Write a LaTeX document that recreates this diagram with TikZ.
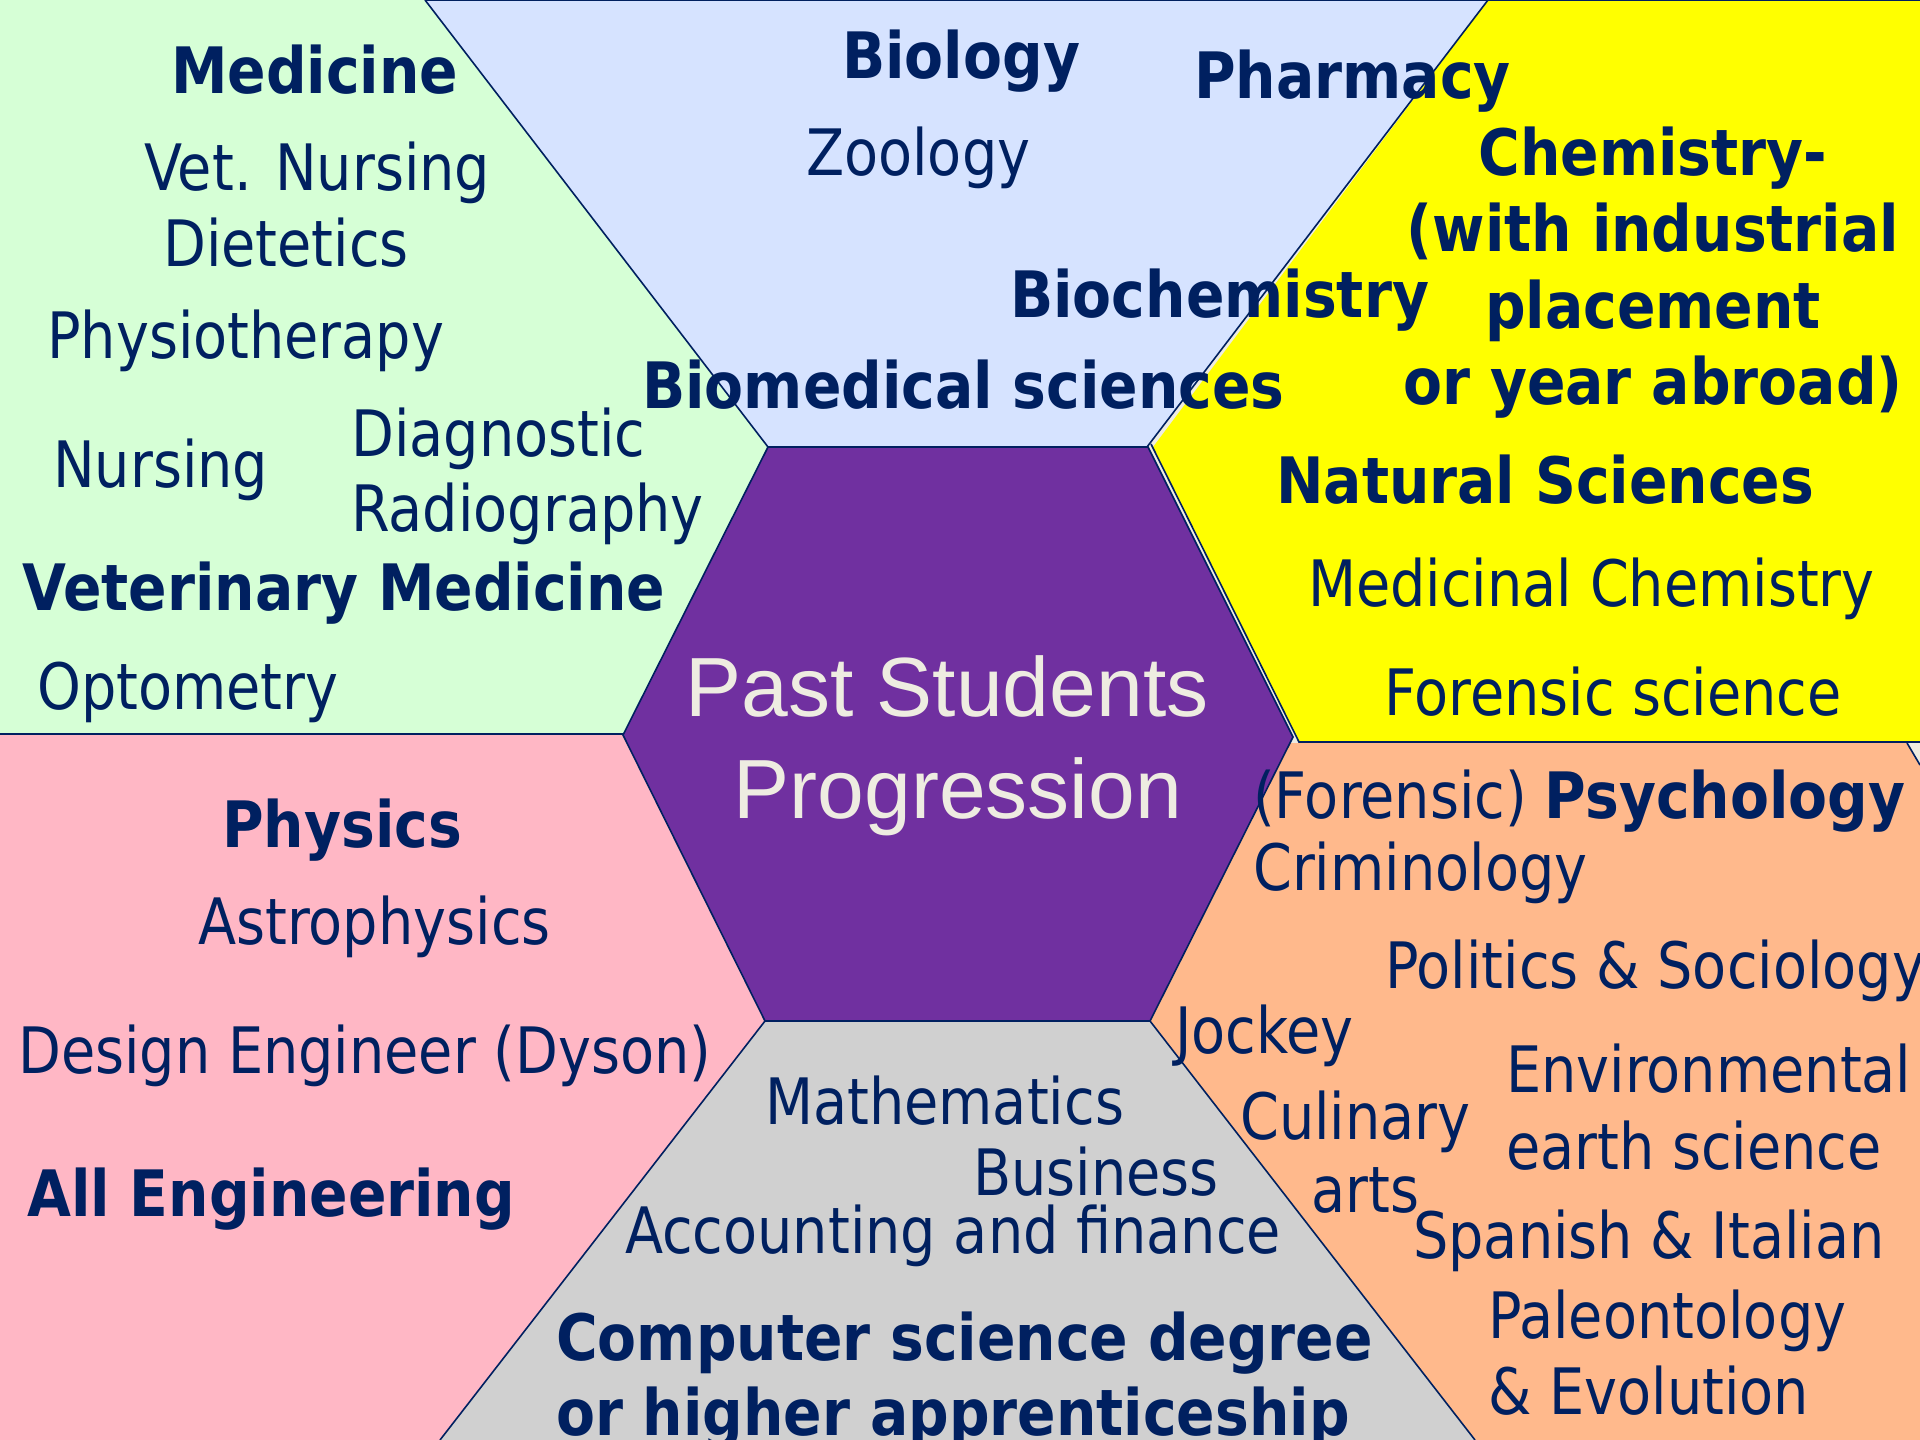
\documentclass[tikz,border=0pt]{standalone}
\usepackage{fontspec}
\setmainfont{DejaVu Sans}[FakeStretch=0.87, BoldFeatures={FakeStretch=0.887}]
\newfontfamily\arialf{Liberation Sans}
\definecolor{navy}{RGB}{0,32,96}
\definecolor{bgc}{RGB}{238,236,225}
\definecolor{greenr}{RGB}{214,255,214}
\definecolor{bluer}{RGB}{214,227,255}
\definecolor{yellowr}{RGB}{255,255,0}
\definecolor{oranger}{RGB}{255,185,140}
\definecolor{pinkr}{RGB}{255,183,197}
\definecolor{greyr}{RGB}{208,208,208}
\definecolor{purpler}{RGB}{112,48,160}
\definecolor{centretext}{RGB}{238,236,225}
\tikzset{
  txt/.style={anchor=base west, inner sep=0pt, text=navy, font=\fontsize{64}{76}\selectfont},
  btxt/.style={txt, font=\fontsize{64}{76}\selectfont\bfseries},
  ctxt/.style={txt, anchor=base},
  cbtxt/.style={btxt, anchor=base},
  edge/.style={draw=navy, line width=1.6pt},
  hub/.style={txt, anchor=base, text=centretext, font=\arialf\fontsize{84}{98}\selectfont}
}
\begin{document}
\begin{tikzpicture}[x=1pt,y=-1pt]
\useasboundingbox (0,0) rectangle (1920,1440);
\clip (0,0) rectangle (1920,1440);
\fill[bgc] (0,0) rectangle (1920,1440);
% regions
\fill[oranger] (1250,743) -- (1907,743) -- (1920,765) -- (1920,1440) -- (1475,1440) -- (1150,1021) -- cycle;
\fill[greyr] (765,1021) -- (1150,1021) -- (1475,1440) -- (440,1440) -- cycle;
\fill[pinkr] (0,734) -- (623,734) -- (765,1021) -- (440,1440) -- (0,1440) -- cycle;
\fill[greenr] (0,0) -- (425,0) -- (768,447) -- (623,734) -- (0,734) -- cycle;
\fill[bluer] (425,0) -- (1488,0) -- (1147,447) -- (768,447) -- cycle;
\fill[yellowr] (1488,0) -- (1920,0) -- (1920,742) -- (1299,742) -- (1153,447) -- cycle;
% borders
\draw[edge] (425,0.5) -- (1920,0.5);
\draw[edge] (425,0) -- (768,447);
\draw[edge] (1488,0) -- (1147,447);
\draw[edge] (1151,444) -- (1299,742) -- (1920,742);
\draw[edge] (1907,743) -- (1920,765);
\draw[edge] (0,734) -- (623,734);
\draw[edge] (765,1021) -- (440,1440);
\draw[edge] (1150,1021) -- (1475,1440);
% hub
\filldraw[fill=purpler, draw=navy, line width=1.6pt] (768,447) -- (1148,447) -- (1293,737) -- (1150,1021) -- (765,1021) -- (623,735) -- cycle;
\node[hub] (hub1) at (947,716) {Past Students};
\node[hub] (hub2) at (958,818) {Progression};
% green
\node[btxt] (medicine) at (171,93) {Medicine};
\node[txt] (vetnursing) at (144,190) {Vet. Nursing};
\node[txt] (dietetics) at (163,266) {Dietetics};
\node[txt] (physio) at (47,358) {Physiotherapy};
\node[txt] (nursing) at (53,487) {Nursing};
\node[txt] (diag) at (351,456) {Diagnostic};
\node[txt] (radio) at (351,531) {Radiography};
\node[btxt] (vetmed) at (22,610) {Veterinary Medicine};
\node[txt] (optom) at (37,709) {Optometry};
% blue
\node[btxt] (biology) at (842,78) {Biology};
\node[txt] (zoology) at (806,175) {Zoology};
\node[btxt] (biochem) at (1010,317) {Biochemistry};
\node[btxt] (biomed) at (642,408) {Biomedical sciences};
\node[btxt] (pharmacy) at (1194,98) {Pharmacy};
% yellow
\node[cbtxt] (chem1) at (1653,175) {Chemistry-};
\node[cbtxt] (chem2) at (1653,251) {(with industrial};
\node[cbtxt] (chem3) at (1653,328) {placement};
\node[cbtxt] (chem4) at (1653,404) {or year abroad)};
\node[btxt] (natsci) at (1276,503) {Natural Sciences};
\node[txt] (medchem) at (1308,606) {Medicinal Chemistry};
\node[txt] (forsci) at (1384,715) {Forensic science};
% orange
\node[txt] (psych) at (1253,818) {(Forensic) \textbf{Psychology}};
\node[txt] (crim) at (1253,890) {Criminology};
\node[txt] (politics) at (1385,988) {Politics \& Sociology};
\node[txt] (jockey) at (1175,1053) {Jockey};
\node[txt] (culinary) at (1240,1139) {Culinary};
\node[txt] (arts) at (1311,1212) {arts};
\node[txt] (environ) at (1506,1092) {Environmental};
\node[txt] (earth) at (1506,1169) {earth science};
\node[txt] (spanish) at (1413,1258) {Spanish \& Italian};
\node[txt] (paleo) at (1488,1338) {Paleontology};
\node[txt] (evol) at (1488,1414) {\& Evolution};
% pink
\node[btxt] (physics) at (222,847) {Physics};
\node[txt] (astro) at (198,944) {Astrophysics};
\node[txt] (design) at (18,1073) {Design Engineer (Dyson)};
\node[btxt] (alleng) at (27,1216) {All Engineering};
% grey
\node[txt] (maths) at (765,1124) {Mathematics};
\node[txt] (business) at (973,1195) {Business};
\node[txt] (account) at (625,1253) {Accounting and finance};
\node[btxt] (comp1) at (556,1360) {Computer science degree};
\node[btxt] (comp2) at (556,1435) {or higher apprenticeship};
\end{tikzpicture}
\end{document}
